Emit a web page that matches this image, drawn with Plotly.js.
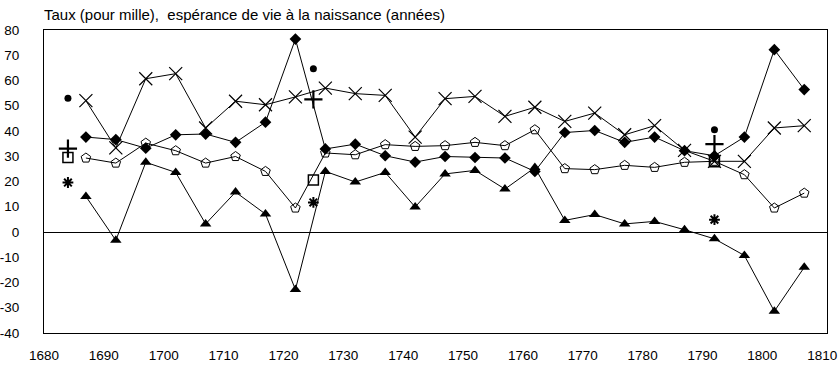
<!DOCTYPE html>
<html>
<head>
<meta charset="utf-8">
<script src="https://cdn.plot.ly/plotly-3.0.1.min.js"></script>
<style>html,body{margin:0;padding:0;background:#fff;}#chart{width:840px;height:371px;}</style>
</head>
<body>
<div id="chart"></div>
<script>
const years = [1687,1692,1697,1702,1707,1712,1717,1722,1727,1732,1737,1742,1747,1752,1757,1762,1767,1772,1777,1782,1787,1792,1797,1802,1807];
const diamondSeries = [37.6,36.6,33.2,38.5,38.8,35.5,43.5,76.4,32.9,34.8,30.2,27.7,29.9,29.5,29.3,24,39.4,40.2,35.5,37.6,32.2,30.2,37.6,72.2,56.4];
const crossSeries = [52,33.3,60.7,62.7,41.2,51.8,50.4,53.5,57,54.8,54.1,37.6,52.8,53.7,45.8,49.4,43.8,47.1,38.5,42.1,32.3,28,28,41.2,42.1];
const houseSeries = [29.3,27.3,35.2,32.2,27.3,29.9,24,9.5,31.3,30.6,34.6,33.9,34.2,35.5,34.2,40.5,25.1,24.7,26.4,25.6,27.6,28,22.7,9.5,15.4];
const triangleSeries = [14.1,-3.3,27.6,23.6,3.2,15.8,7.1,-22.8,24,19.8,23.6,9.9,23,24.4,17,25.5,4.6,6.9,3.2,4.2,0.9,-2.7,-9.3,-31.4,-14];
const pointYears = [1684,1725,1792];
const circlePoints = [53,64.7,40.5];
const plusPoints = [33,52.5,34.8];
const squarePoints = [29.5,20.6,27.8];
const starPoints = [19.6,11.7,4.9];
const xTicks = [1680,1690,1700,1710,1720,1730,1740,1750,1760,1770,1780,1790,1800,1810];
const yTicks = [-40,-30,-20,-10,0,10,20,30,40,50,60,70,80];
const titleText = "Taux (pour mille),&#160; espérance de vie à la naissance (années)";

const lineStyle = {color:'#000', width:1};
const traces = [
  {x:years, y:houseSeries, mode:'lines+markers', line:lineStyle,
   marker:{symbol:'pentagon-open', size:10, color:'#000', line:{width:1,color:'#000'}}},
  {x:years, y:crossSeries, mode:'lines+markers', line:lineStyle,
   marker:{symbol:'x-thin-open', size:13, color:'#000', line:{width:1.2,color:'#000'}}},
  {x:years, y:diamondSeries, mode:'lines+markers', line:lineStyle,
   marker:{symbol:'diamond', size:9, color:'#000'}},
  {x:years, y:triangleSeries, mode:'lines+markers', line:lineStyle,
   marker:{symbol:'triangle-up', size:10, color:'#000'}},
  {x:pointYears, y:circlePoints, mode:'markers',
   marker:{symbol:'circle', size:7, color:'#000'}},
  {x:pointYears, y:plusPoints, mode:'markers',
   marker:{symbol:'cross-thin-open', size:13, color:'#000', line:{width:2.2,color:'#000'}}},
  {x:pointYears, y:squarePoints, mode:'markers',
   marker:{symbol:'square-open', size:10, color:'#000', line:{width:1.5,color:'#000'}}},
  {x:pointYears, y:starPoints, mode:'markers',
   marker:{symbol:'asterisk-open', size:9, color:'#000', line:{width:2,color:'#000'}}}
];

const layout = {
  width:840, height:371,
  margin:{l:44, r:13, t:30, b:38},
  paper_bgcolor:'#fff', plot_bgcolor:'#fff',
  showlegend:false,
  font:{family:'"Liberation Sans", Arial, sans-serif', size:13.5, color:'#000'},
  title:{text:titleText, xref:'paper', x:0, xanchor:'left', yref:'container', y:1-15/371, yanchor:'middle',
         font:{size:15, color:'#000'}},
  xaxis:{range:[1680,1810.8], tickvals:xTicks, ticktext:xTicks.map(String), showgrid:false, zeroline:false,
         showline:true, mirror:true, linecolor:'#000', linewidth:1, ticks:'', ticklabelstandoff:10,
         tickfont:{size:13.5}},
  yaxis:{range:[-40,80], tickvals:yTicks, ticktext:yTicks.map(String), showgrid:false, zeroline:true,
         zerolinecolor:'#000', zerolinewidth:1, showline:true, mirror:true, linecolor:'#000', linewidth:1,
         ticks:'', ticklabelstandoff:21, tickfont:{size:13.5}}
};
Plotly.newPlot('chart', traces, layout, {displayModeBar:false, staticPlot:true});
</script>
</body>
</html>
